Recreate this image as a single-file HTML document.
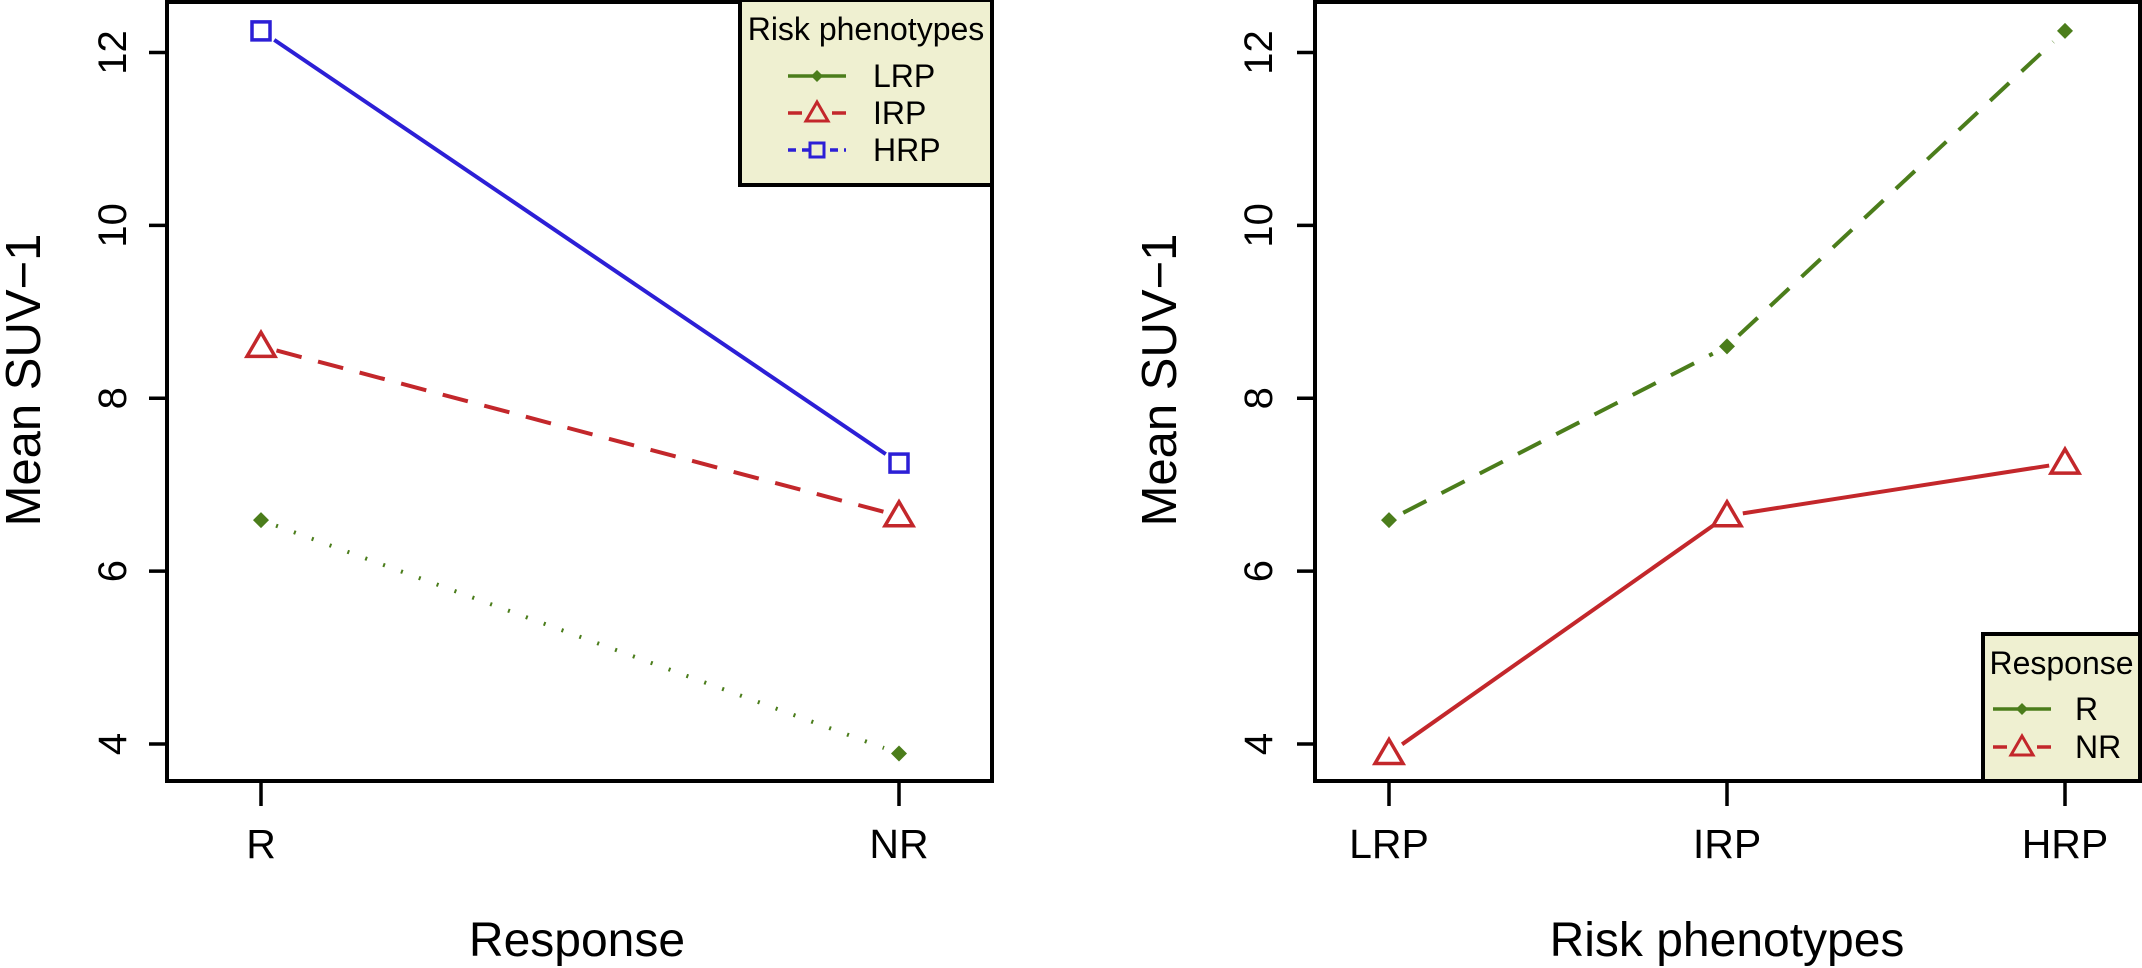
<!DOCTYPE html>
<html><head><meta charset="utf-8"><style>
html,body{margin:0;padding:0;background:#fff;}
svg{display:block;font-family:"Liberation Sans",sans-serif;}
</style></head><body>
<svg id="c" width="2142" height="968" viewBox="0 0 2142 968"></svg>
<script>
const yTicks = [4, 6, 8, 10, 12];
const leftCats = ["R", "NR"];
const rightCats = ["LRP", "IRP", "HRP"];
const lrpVals = [6.59, 3.89];
const irpVals = [8.6, 6.64];
const hrpVals = [12.25, 7.25];
const rVals = [6.59, 8.6, 12.25];
const nrVals = [3.89, 6.64, 7.25];

const GREEN = "#4b7d1b", RED = "#c3272b", BLUE = "#2c1fd6";
const NS = "http://www.w3.org/2000/svg";
const svg = document.getElementById("c");
function mk(tag, attrs, parent) {
  const e = document.createElementNS(NS, tag);
  for (const k in attrs) e.setAttribute(k, attrs[k]);
  (parent || svg).appendChild(e);
  return e;
}
function yScale(v) { return 744 - (v - 4) * (744 - 52.5) / 8; }

function marker(g, type, x, y, color) {
  let m;
  if (type === "diamond") {
    m = mk("path", {d: `M${x} ${y-8}L${x+8} ${y}L${x} ${y+8}L${x-8} ${y}Z`, fill: color}, g);
  } else if (type === "triangle") {
    m = mk("path", {d: `M${x} ${y-14}L${x+14} ${y+10}L${x-14} ${y+10}Z`, fill: "#fff", stroke: color, "stroke-width": 3.5}, g);
  } else {
    m = mk("rect", {x: x-9, y: y-9, width: 18, height: 18, fill: "#fff", stroke: color, "stroke-width": 3.5}, g);
  }
  
  
}

function series(g, name, xs, vals, color, dash, mtype) {
  const s = mk("g", {}, g);
  
  
  const pts = vals.map((v, i) => [xs[i], yScale(v)]);
  for (let i = 0; i < pts.length - 1; i++) {
    const [x1, y1] = pts[i], [x2, y2] = pts[i+1];
    const dx = x2 - x1, dy = y2 - y1, L = Math.hypot(dx, dy), gap = 16;
    const l = mk("line", {x1: x1 + dx/L*gap, y1: y1 + dy/L*gap, x2: x2 - dx/L*gap, y2: y2 - dy/L*gap,
      stroke: color, "stroke-width": 4, "stroke-dasharray": dash}, s);
    
    
  }
  pts.forEach(p => marker(s, mtype, p[0], p[1], color));
}

function panel(prefix, left, right, cats, xs, xtitle, ytx, titleX, xtitleX) {
  const g = mk("g", {});
  
  
  const box = mk("rect", {x: left, y: 2, width: right - left, height: 779, fill: "none", stroke: "#000", "stroke-width": 4}, g);
  
  
  yTicks.forEach(t => {
    const y = yScale(t);
    mk("line", {x1: left - 18, y1: y, x2: left, y2: y, stroke: "#000", "stroke-width": 3.5}, g);
    const tx = mk("text", {x: ytx, y: y, "font-size": 40, "text-anchor": "middle", transform: `rotate(-90 ${ytx} ${y})`, "dominant-baseline": "central"}, g);
    tx.textContent = t;
    
    
  });
  cats.forEach((c, i) => {
    mk("line", {x1: xs[i], y1: 781, x2: xs[i], y2: 806, stroke: "#000", "stroke-width": 3.5}, g);
    const tx = mk("text", {x: xs[i], y: 858, "font-size": 41, "text-anchor": "middle"}, g);
    tx.textContent = c;
    
    
  });
  const yt = mk("text", {x: titleX, y: 380, "font-size": 49, "text-anchor": "middle", transform: `rotate(-90 ${titleX} 380)`, "dominant-baseline": "central"}, g);
  yt.textContent = "Mean SUV\u22121";
  
  
  const xt = mk("text", {x: xtitleX, y: 956, "font-size": 48, "text-anchor": "middle"}, g);
  xt.textContent = xtitle;
  
  
  return g;
}

function legend(prefix, x0, y0, x1, y1, title, titleY, items, lineX1, lineX2, textX) {
  const g = mk("g", {});
  
  
  mk("rect", {x: x0, y: y0, width: x1 - x0, height: y1 - y0, fill: "#eff0d1", stroke: "#000", "stroke-width": 4}, g);
  const t = mk("text", {x: (x0 + x1) / 2, y: titleY, "font-size": 32, "text-anchor": "middle", "dominant-baseline": "central"}, g);
  t.textContent = title;
  
  
  items.forEach(it => {
    const e = mk("g", {}, g);
    
    
    mk("line", {x1: lineX1, y1: it.y, x2: lineX2, y2: it.y, stroke: it.color, "stroke-width": 3.5, "stroke-dasharray": it.dash}, e);
    const mx = (lineX1 + lineX2) / 2;
    if (it.m === "diamond") mk("path", {d: `M${mx} ${it.y-6}L${mx+6} ${it.y}L${mx} ${it.y+6}L${mx-6} ${it.y}Z`, fill: it.color}, e);
    else if (it.m === "triangle") mk("path", {d: `M${mx} ${it.y-11}L${mx+11} ${it.y+8}L${mx-11} ${it.y+8}Z`, fill: "#eff0d1", stroke: it.color, "stroke-width": 3}, e);
    else mk("rect", {x: mx-7, y: it.y-7, width: 14, height: 14, fill: "#eff0d1", stroke: it.color, "stroke-width": 3}, e);
    const tx = mk("text", {x: textX, y: it.y, "font-size": 32, "dominant-baseline": "central"}, e);
    tx.textContent = it.label;
  });
}

// Left panel
const lxs = [261, 899];
const gl = panel("left", 167, 992, leftCats, lxs, "Response", 113, 24, 577);
series(gl, "lrp-series", lxs, lrpVals, GREEN, "2 17", "diamond");
series(gl, "irp-series", lxs, irpVals, RED, "26 17", "triangle");
series(gl, "hrp-series", lxs, hrpVals, BLUE, "none", "square");
legend("left", 740, 0, 992, 185, "Risk phenotypes", 29, [
  {label: "LRP", y: 76, color: GREEN, dash: "none", m: "diamond"},
  {label: "IRP", y: 113, color: RED, dash: "14 8", m: "triangle"},
  {label: "HRP", y: 150, color: BLUE, dash: "8 6", m: "square"}
], 788, 846, 873);

// Right panel
const rxs = [1389, 1727, 2065];
const gr = panel("right", 1315, 2140, rightCats, rxs, "Risk phenotypes", 1259, 1160, 1727);
series(gr, "r-series", rxs, rVals, GREEN, "26 17", "diamond");
series(gr, "nr-series", rxs, nrVals, RED, "none", "triangle");
legend("right", 1983, 634, 2140, 781, "Response", 663, [
  {label: "R", y: 709, color: GREEN, dash: "none", m: "diamond"},
  {label: "NR", y: 747, color: RED, dash: "14 8", m: "triangle"}
], 1993, 2051, 2075);
</script>
</body></html>
